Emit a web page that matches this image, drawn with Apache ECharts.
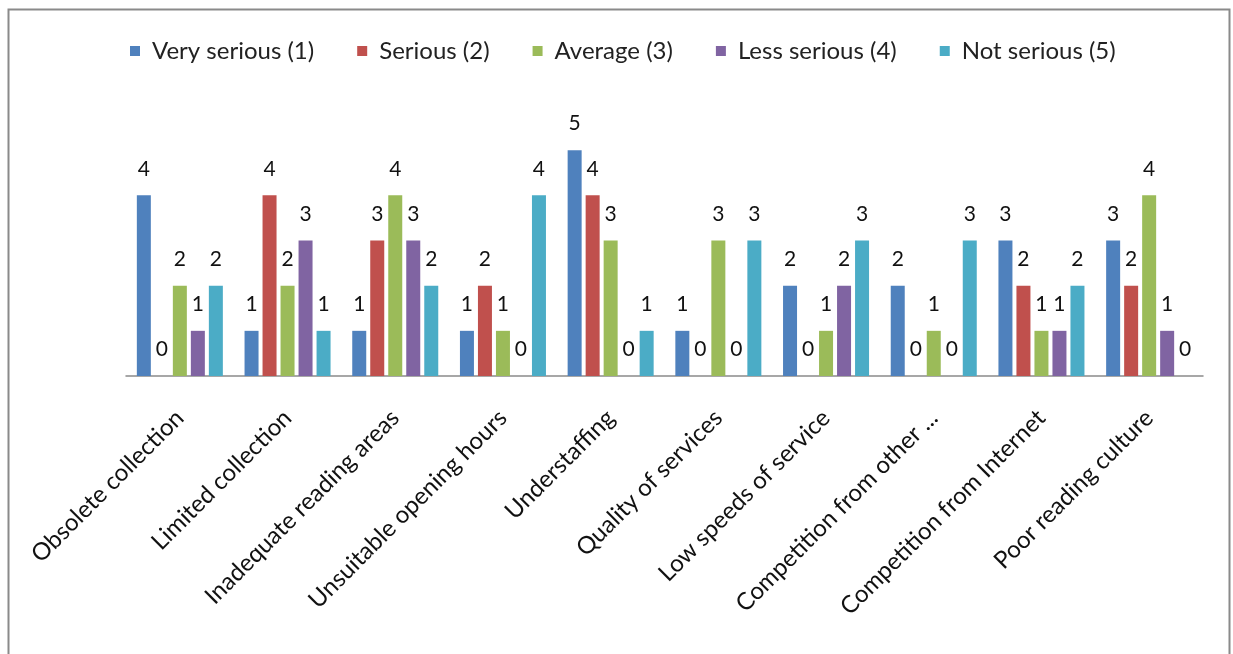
<!DOCTYPE html>
<html>
<head>
<meta charset="utf-8">
<script src="https://cdn.jsdelivr.net/npm/echarts@6/dist/echarts.min.js"></script>
<style>
  html, body { margin: 0; padding: 0; background: #fff; }
  #chart { width: 1233px; height: 654px; }
</style>
</head>
<body>
<div id="chart"></div>
<script>
// Problems rated by seriousness, counts per rating
const categories = [
  'Obsolete collection', 'Limited collection', 'Inadequate reading areas',
  'Unsuitable opening hours', 'Understaffing', 'Quality of services',
  'Low speeds of service', 'Competition from other ...',
  'Competition from Internet', 'Poor reading culture'
];
const seriesNames = ['Very serious (1)', 'Serious (2)', 'Average (3)', 'Less serious (4)', 'Not serious (5)'];
const verySerious = [4, 1, 1, 1, 5, 1, 2, 2, 3, 3];
const serious     = [0, 4, 3, 2, 4, 0, 0, 0, 2, 2];
const average     = [2, 2, 4, 1, 3, 3, 1, 1, 1, 4];
const lessSerious = [1, 3, 3, 0, 0, 0, 2, 0, 1, 1];
const notSerious  = [2, 1, 2, 4, 1, 3, 3, 3, 2, 0];

const seriesData = [verySerious, serious, average, lessSerious, notSerious];
const colors = ['#4F81BD', '#C0504D', '#9BBB59', '#8064A2', '#4BACC6'];
const FONT = 'Lato';

const chart = echarts.init(document.getElementById('chart'), null, { renderer: 'canvas' });
chart.setOption({
  animation: false,
  backgroundColor: '#fff',
  color: colors,
  textStyle: { fontFamily: FONT },
  graphic: [{
    type: 'rect',
    shape: { x: 8.5, y: 9.5, width: 1221, height: 700 },
    style: { fill: 'none', stroke: '#8a8a8a', lineWidth: 2 },
    silent: true
  }],
  legend: {
    top: 34,
    left: 125,
    itemWidth: 10,
    itemHeight: 10,
    itemGap: 43,
    icon: 'rect',
    textStyle: { fontFamily: FONT, fontSize: 24, color: '#222', padding: [0, 0, 0, 7] },
    data: seriesNames
  },
  grid: { left: 126, right: 30, top: 105, bottom: 278, containLabel: false },
  xAxis: {
    type: 'category',
    data: categories,
    axisLine: { lineStyle: { color: '#8a8a8a', width: 1.5 } },
    axisTick: { show: false },
    axisLabel: {
      rotate: 45,
      interval: 0,
      margin: 38,
      fontFamily: FONT,
      fontSize: 24,
      color: '#111'
    }
  },
  yAxis: {
    type: 'value',
    min: 0,
    max: 6,
    interval: 1,
    show: false,
    splitLine: { show: false }
  },
  series: seriesData.map((vals, i) => ({
    name: seriesNames[i],
    type: 'bar',
    data: vals,
    barWidth: 14,
    barGap: '28.6%',
    label: {
      show: true,
      position: 'top',
      distance: 16,
      fontFamily: FONT,
      fontSize: 21,
      color: '#111'
    }
  }))
});
</script>
</body>
</html>
